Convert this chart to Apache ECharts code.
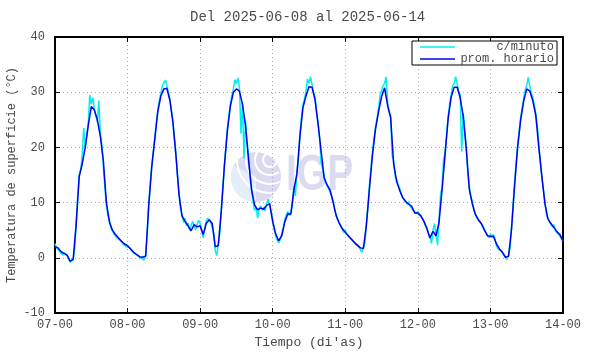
<!DOCTYPE html>
<html>
<head>
<meta charset="utf-8">
<script src="https://cdn.jsdelivr.net/npm/echarts@6/dist/echarts.min.js"></script>
<style>
html, body { margin: 0; padding: 0; background: #fff; }
#chart { width: 590px; height: 354px; }
</style>
</head>
<body>
<div id="chart"></div>
<script>
// etiquetas del eje x (inicio de cada dia)
var diasEtiquetas = ['07-00', '08-00', '09-00', '10-00', '11-00', '12-00', '13-00', '14-00'];

// promedio horario (un valor por hora, desde 07-00)
var promDia1 = [2.0, 1.8, 1.1, 0.8, 0.5, -0.6, -0.3, 6.0, 14.7, 17.0, 20.0, 24.0, 27.4, 26.8, 25.0, 22.0, 17.5, 10.0, 6.5, 5.0, 4.2, 3.6, 3.0, 2.5];
var promDia2 = [2.2, 1.6, 1.0, 0.6, 0.2, 0.1, 0.3, 9.5, 16.5, 21.5, 26.5, 29.3, 30.6, 30.7, 28.5, 24.5, 18.5, 11.5, 7.6, 6.6, 5.8, 4.9, 6.0, 5.6];
var promDia3 = [5.8, 4.2, 6.2, 6.9, 6.2, 2.0, 2.2, 8.5, 16.5, 23.0, 27.5, 30.0, 30.6, 30.2, 27.8, 24.0, 17.8, 12.3, 9.6, 8.7, 9.0, 8.8, 9.5, 9.8];
var promDia4 = [6.5, 4.3, 3.1, 4.0, 6.5, 8.0, 7.9, 12.3, 15.2, 22.0, 27.2, 29.3, 31.0, 30.9, 28.6, 24.2, 19.4, 14.5, 13.2, 12.2, 10.0, 7.6, 6.3, 5.3];
var promDia5 = [4.6, 4.0, 3.4, 2.8, 2.3, 1.8, 1.7, 6.0, 12.6, 18.7, 23.3, 26.5, 29.2, 30.8, 27.6, 25.4, 17.0, 13.8, 12.2, 10.9, 10.2, 9.7, 9.3, 8.1];
var promDia6 = [8.1, 7.6, 6.6, 5.2, 3.6, 4.8, 4.0, 6.4, 12.3, 18.7, 25.1, 29.1, 30.9, 30.9, 29.0, 25.6, 19.8, 12.5, 9.8, 7.9, 6.9, 6.2, 5.0, 4.0];
var promDia7 = [3.9, 3.9, 2.5, 1.6, 1.0, 0.1, 0.3, 5.3, 13.2, 20.0, 25.0, 28.4, 30.6, 30.2, 28.5, 25.8, 20.0, 14.8, 9.9, 7.1, 6.2, 5.5, 4.7, 4.2, 3.0];

// c/minuto (leido cada media hora)
var minDia1 = [2.6, 1.8, 1.7, 1.2, 1.0, 0.5, 0.9, 0.6, 0.4, 0.2, -0.8, -0.9, -0.4, 1.5, 6.5, 11.0, 15.0, 16.0, 18.5, 23.5, 20.0, 22.0, 24.5, 29.5,
  27.8, 29.0, 27.0, 25.8, 24.6, 28.5, 22.5, 20.5, 16.5, 12.5, 9.5, 7.6, 6.8, 5.4, 5.2, 4.3, 4.5, 3.6, 3.9, 3.2, 3.2, 2.5, 2.7, 2.0];
var minDia2 = [2.3, 1.9, 1.8, 1.2, 1.1, 0.7, 0.7, 0.3, 0.3, -0.1, 0.2, -0.4, 0.5, 4.5, 9.8, 13.5, 16.8, 19.2, 21.8, 24.5, 26.8, 28.5, 29.8, 31.2,
  31.5, 32.2, 31.2, 30.0, 28.8, 26.8, 24.8, 21.8, 18.8, 15.0, 11.8, 8.8, 7.8, 6.4, 7.2, 5.8, 6.3, 5.0, 5.3, 6.6, 6.3, 5.1, 6.0, 6.8];
var minDia3 = [6.2, 5.0, 3.6, 5.2, 6.6, 7.2, 7.3, 6.4, 6.6, 4.5, 1.2, 0.4, 2.6, 4.5, 8.8, 12.5, 16.8, 20.0, 23.4, 25.8, 27.8, 29.5, 30.6, 32.3,
  31.5, 32.6, 30.8, 22.5, 28.2, 18.0, 24.8, 21.2, 18.4, 15.0, 12.8, 10.2, 8.6, 9.2, 7.2, 8.9, 9.4, 8.6, 9.2, 8.5, 9.9, 10.6, 10.3, 8.2];
var minDia4 = [7.0, 5.2, 4.0, 3.2, 2.7, 3.3, 4.4, 5.5, 7.0, 7.8, 8.4, 7.6, 8.3, 9.5, 13.0, 11.2, 15.5, 17.5, 22.5, 25.5, 27.8, 28.8, 30.2, 32.4,
  31.6, 32.8, 31.4, 30.0, 29.2, 26.5, 24.6, 21.8, 17.2, 17.5, 14.8, 13.6, 13.6, 12.5, 12.6, 11.2, 10.4, 8.6, 7.9, 6.8, 6.6, 5.7, 5.6, 4.6];
var minDia5 = [5.0, 4.2, 4.3, 3.6, 3.7, 3.0, 3.1, 2.4, 2.6, 2.0, 2.2, 1.0, 1.9, 2.8, 6.5, 9.5, 13.2, 16.4, 19.2, 21.8, 23.8, 25.2, 27.0, 29.5,
  29.8, 31.2, 31.6, 32.8, 28.2, 26.4, 25.8, 18.5, 17.5, 14.8, 14.2, 13.2, 12.6, 11.5, 11.2, 10.4, 10.7, 9.7, 10.2, 9.3, 9.6, 8.6, 8.5, 8.0];
var minDia6 = [8.4, 7.8, 8.0, 7.2, 6.9, 6.0, 5.6, 4.4, 3.9, 2.6, 5.0, 6.2, 4.2, 2.3, 6.8, 11.5, 12.8, 17.8, 19.2, 22.2, 25.6, 27.8, 29.6, 31.2,
  31.6, 32.8, 31.5, 30.2, 29.6, 19.2, 26.2, 23.5, 20.2, 15.5, 13.2, 10.8, 10.4, 8.6, 8.5, 7.2, 7.5, 6.5, 6.7, 5.8, 5.5, 4.6, 4.4, 3.6];
var minDia7 = [4.3, 3.6, 4.2, 3.4, 2.2, 1.6, 1.9, 1.2, 1.3, 0.4, 0.3, -0.3, 0.6, 1.8, 5.8, 9.8, 13.6, 17.2, 20.5, 23.0, 25.5, 27.2, 28.9, 30.4,
  31.2, 32.7, 31.2, 29.8, 29.2, 27.6, 26.2, 24.0, 20.5, 17.5, 14.5, 12.5, 10.2, 7.8, 7.6, 6.5, 6.7, 5.6, 6.0, 4.9, 5.1, 4.3, 4.6, 3.5, 3.0];

var promHorario = [].concat(promDia1, promDia2, promDia3, promDia4, promDia5, promDia6, promDia7);
var cMinuto = [].concat(minDia1, minDia2, minDia3, minDia4, minDia5, minDia6, minDia7);

var fuente = 'Liberation Mono';
var gris = '#4a4a4a';

var chart = echarts.init(document.getElementById('chart'), null, { renderer: 'canvas' });

var ejeLinea = { onZero: false, lineStyle: { color: '#000', width: 2 } };
var ejeTick = { show: true, inside: true, length: 5, lineStyle: { color: '#000', width: 1 } };
var rejilla = { show: true, lineStyle: { color: '#aaa', type: [1, 3] } };

var option = {
  animation: false,
  backgroundColor: '#fff',
  title: {
    text: 'Del 2025-06-08 al 2025-06-14',
    left: 190,
    top: 10,
    padding: 0,
    textStyle: { fontFamily: fuente, fontSize: 14, fontWeight: 'normal', color: gris }
  },
  legend: {
    data: [{ name: 'c/minuto', icon: 'rect' }, { name: 'prom. horario', icon: 'rect' }],
    orient: 'vertical',
    right: 33,
    top: 41,
    itemWidth: 35,
    itemHeight: 1.5,
    itemGap: 0,
    padding: [0, 3, 0, 8],
    borderColor: '#000',
    borderWidth: 1,
    borderRadius: 0,
    backgroundColor: '#fff',
    formatter: function (name) { return '{t|' + name + '}'; },
    textStyle: {
      rich: { t: { width: 94, height: 11.5, lineHeight: 11.5, align: 'right', fontFamily: fuente, fontSize: 12, color: gris } }
    }
  },
  grid: { left: 55, right: 27, top: 37, bottom: 41, outerBoundsMode: 'none', containLabel: false },
  xAxis: [{
    type: 'value',
    min: 0,
    max: 168,
    interval: 24,
    position: 'bottom',
    name: "Tiempo (di'as)",
    nameLocation: 'middle',
    nameGap: 23,
    nameTextStyle: { fontFamily: fuente, fontSize: 13, color: gris },
    axisLine: ejeLinea,
    axisTick: ejeTick,
    axisLabel: {
      margin: 6,
      fontFamily: fuente, fontSize: 12, color: gris,
      formatter: function (v) { return diasEtiquetas[Math.round(v / 24)]; }
    },
    splitLine: rejilla
  }, {
    type: 'value',
    min: 0,
    max: 168,
    interval: 24,
    position: 'top',
    axisLine: ejeLinea,
    axisTick: ejeTick,
    axisLabel: { show: false },
    splitLine: { show: false }
  }],
  yAxis: [{
    type: 'value',
    min: -10,
    max: 40,
    interval: 10,
    position: 'left',
    name: 'Temperatura de superficie (°C)',
    nameLocation: 'middle',
    nameGap: 37,
    nameMoveOverlap: false,
    nameTextStyle: { fontFamily: fuente, fontSize: 12, color: gris },
    axisLine: { show: true, onZero: false, lineStyle: { color: '#000', width: 2 } },
    axisTick: ejeTick,
    axisLabel: { margin: 10, fontFamily: fuente, fontSize: 12, color: gris },
    splitLine: rejilla
  }, {
    type: 'value',
    min: -10,
    max: 40,
    interval: 10,
    position: 'right',
    axisLine: { show: true, onZero: false, lineStyle: { color: '#000', width: 2 } },
    axisTick: ejeTick,
    axisLabel: { show: false },
    splitLine: { show: false }
  }],
  // marca de agua IGP
  graphic: [
    { type: 'circle', z: -1, silent: true, shape: { cx: 256, cy: 177, r: 25 }, style: { fill: '#dcdaf0' } },
    { type: 'sector', z: -1, silent: true, shape: { cx: 256, cy: 177, r: 25, r0: 0, startAngle: Math.PI * 0.5, endAngle: Math.PI * 1.15 }, style: { fill: '#e4eefa' } },
    { type: 'arc', z: -1, silent: true, shape: { cx: 270, cy: 160, r: 7, startAngle: 0, endAngle: Math.PI * 2 }, style: { stroke: '#fff', lineWidth: 2, fill: null } },
    { type: 'arc', z: -1, silent: true, shape: { cx: 270, cy: 160, r: 15, startAngle: Math.PI * 0.3, endAngle: Math.PI * 1.3 }, style: { stroke: '#fff', lineWidth: 2, fill: null } },
    { type: 'arc', z: -1, silent: true, shape: { cx: 270, cy: 160, r: 24, startAngle: Math.PI * 0.35, endAngle: Math.PI * 1.2 }, style: { stroke: '#fff', lineWidth: 2, fill: null } },
    { type: 'arc', z: -1, silent: true, shape: { cx: 270, cy: 160, r: 33, startAngle: Math.PI * 0.4, endAngle: Math.PI * 1.1 }, style: { stroke: '#fff', lineWidth: 2, fill: null } },
    { type: 'text', z: -1, silent: true, x: 286, y: 176, scaleX: 0.78,
      style: { text: 'IGP', fontFamily: 'Liberation Sans', fontWeight: 'bold', fontSize: 50, fill: '#dcdcf0', verticalAlign: 'middle', align: 'left' } }
  ],
  series: [{
    name: 'c/minuto',
    type: 'line',
    xAxisIndex: 0,
    yAxisIndex: 0,
    symbol: 'none',
    color: '#00eeee',
    lineStyle: { color: '#00eeee', width: 1.5 },
    data: cMinuto.map(function (v, i) { return [i * 0.5, v]; })
  }, {
    name: 'prom. horario',
    type: 'line',
    xAxisIndex: 0,
    yAxisIndex: 0,
    symbol: 'none',
    color: '#0000ee',
    lineStyle: { color: '#0000ee', width: 1.5 },
    data: promHorario.map(function (v, i) { return [i, v]; })
  }]
};

chart.setOption(option);
</script>
</body>
</html>
